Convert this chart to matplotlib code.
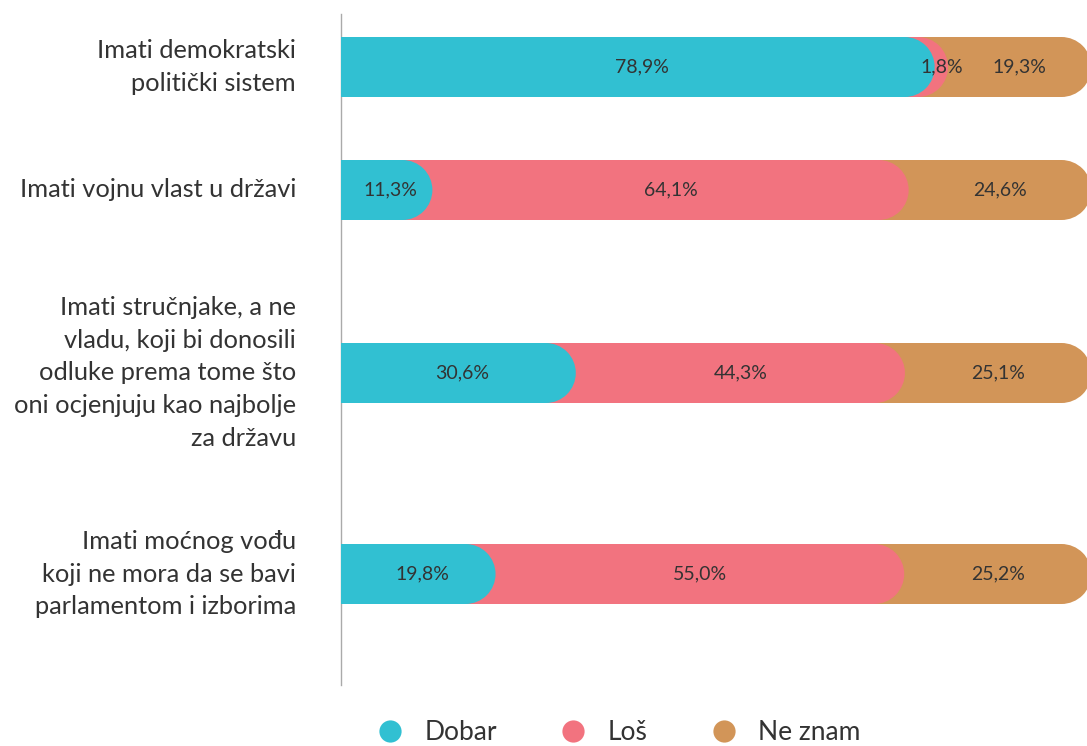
import matplotlib
matplotlib.use("Agg")
import matplotlib.pyplot as plt
from matplotlib.patches import Rectangle, Ellipse
from matplotlib.lines import Line2D
import numpy as np

plt.rcParams['font.family'] = ['Lato', 'DejaVu Sans']

categories = [
    "Imati demokratski\npolitički sistem",
    "Imati vojnu vlast u državi",
    "Imati stručnjake, a ne\nvladu, koji bi donosili\nodluke prema tome što\noni ocjenjuju kao najbolje\nza državu",
    "Imati moćnog vođu\nkoji ne mora da se bavi\nparlamentom i izborima",
]
series = ["Dobar", "Loš", "Ne znam"]
dobar = [78.9, 11.3, 30.6, 19.8]
los = [1.8, 64.1, 44.3, 55.0]
ne_znam = [19.3, 24.6, 25.1, 25.2]

colors = ["#31C0D2", "#F2737F", "#D29558"]
text_color = "#333333"

# layout (pixel-like y units, bars are 60 px tall)
y_pos = [67, 190, 373, 574]
bar_h = 60
px_per_pct = 7.43
cap_w = 2 * 30 / px_per_pct   # width of round cap in % units
offset = 1.0

fig = plt.figure(figsize=(10.87, 7.46), dpi=100)
ax = fig.add_axes([341 / 1087, 1 - 685 / 746, 1 - 341 / 1087, (685 - 14) / 746])
ax.set_xlim(0, (1087 - 341) / px_per_pct)
ax.set_ylim(685, 14)

values = np.array([dobar, los, ne_znam])
cum = values.cumsum(axis=0)

for j, y in enumerate(y_pos):
    # draw last segment first so earlier caps sit on top
    for i in reversed(range(len(series))):
        end = cum[i, j] + offset
        ax.add_patch(Rectangle((0, y - bar_h / 2), end - cap_w / 2, bar_h,
                               facecolor=colors[i], edgecolor='none', zorder=2 + (3 - i)))
        ax.add_patch(Ellipse((end - cap_w / 2, y), cap_w, bar_h,
                             facecolor=colors[i], edgecolor='none', zorder=2 + (3 - i)))
    for i in range(len(series)):
        start = cum[i, j] - values[i, j]
        mid = (start + cum[i, j]) / 2 + offset
        ax.text(mid, y, f"{values[i, j]:.1f}%".replace(".", ","), ha='center', va='center',
                fontsize=14, color=text_color, zorder=10)

for y, lab in zip(y_pos, categories):
    ax.text(-45 / px_per_pct, y, lab, ha='right', va='center', fontsize=18.3,
            color=text_color, linespacing=1.52, clip_on=False)

for s in ['top', 'right', 'bottom']:
    ax.spines[s].set_visible(False)
ax.spines['left'].set_color('#aaaaaa')
ax.spines['left'].set_linewidth(1)
ax.set_xticks([])
ax.set_yticks([])

handles = [Line2D([], [], marker='o', linestyle='none', markersize=16,
                  markerfacecolor=c, markeredgecolor='none') for c in colors]
fig.legend(handles, series, loc='center', bbox_to_anchor=(612 / 1087, 1 - 733 / 746),
           ncol=3, frameon=False, fontsize=19, handletextpad=0.3, columnspacing=1.9,
           labelcolor=text_color, borderaxespad=0)

fig.savefig("out.png", dpi=100)
